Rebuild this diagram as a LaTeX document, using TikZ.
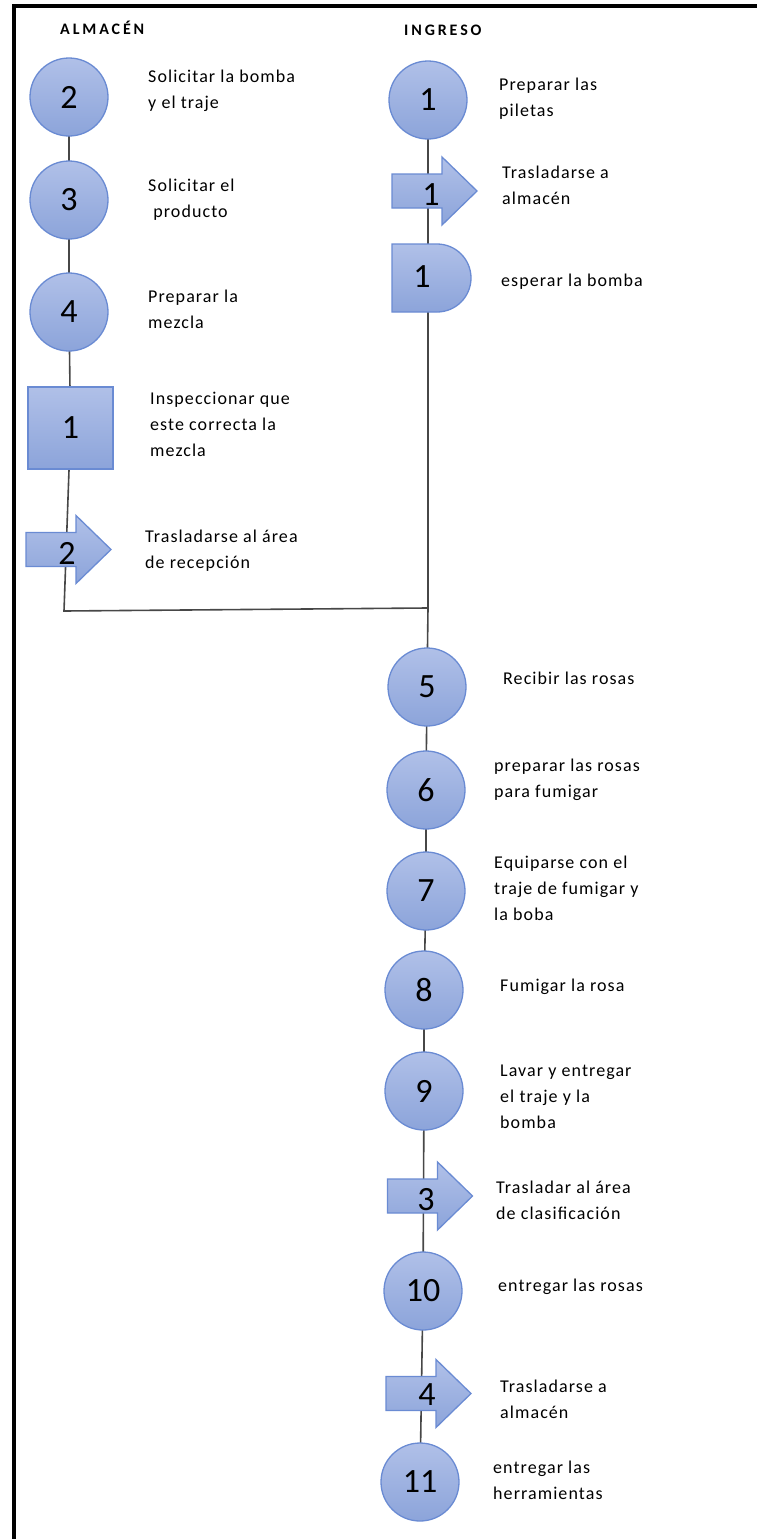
\documentclass[tikz,border=0pt]{standalone}
\usepackage{fontspec}
\setmainfont{Carlito}
\newfontfamily\lblfont{Carlito}[LetterSpace=6]
\newfontfamily\hdrfont{Carlito}[LetterSpace=18]
\usetikzlibrary{backgrounds}

\definecolor{shtop}{HTML}{B0C0E8}
\definecolor{shbot}{HTML}{8CA4DA}
\definecolor{shline}{HTML}{6A8BD3}

\tikzset{
  stepshape/.style={draw=shline, line width=1.3pt, top color=shtop, bottom color=shbot},
  circ/.style={stepshape, circle, minimum size=78pt, inner sep=0pt, font=\fontsize{34}{34}\selectfont},
  sqbox/.style={stepshape, rectangle, minimum width=85pt, minimum height=82pt, inner sep=0pt, font=\fontsize{34}{34}\selectfont},
  num/.style={inner sep=0pt, font=\fontsize{34}{34}\selectfont},
  lbl/.style={anchor=west, align=left, inner sep=0pt, font=\lblfont\fontsize{18}{26}\selectfont},
  hdr/.style={anchor=west, inner sep=0pt, font=\hdrfont\bfseries\fontsize{16}{16}\selectfont},
  conn/.style={draw=black!72, line width=1.6pt},
  holder/.style={inner sep=0pt, minimum width=85pt, minimum height=68pt}
}

% transport step: block arrow with its number
\newcommand\moveshape[4]{%
  \node[holder] (#1) at (#2) {};
  \path[stepshape, shift={(#1.center)}]
    (-42.5,-17) -- (7.5,-17) -- (7.5,-34) -- (42.5,0) -- (7.5,34)
    -- (7.5,17) -- (-42.5,17) -- cycle;
  \node[num] (#1n) at (#4) {#3};}

\begin{document}
\begin{tikzpicture}[x=1pt, y=-1pt]
\useasboundingbox (0,0) rectangle (757,1539);

% frame
\begin{scope}
  \clip (0,0) rectangle (757,1539);
  \draw[line width=4pt] (780,6) -- (13.5,6) -- (13.5,1560);
\end{scope}

% column headings
\node[hdr] (hA) at (60,28) {ALMACÉN};
\node[hdr] (hI) at (404,30) {INGRESO};

% ---- ALMACÉN column ----
\node[circ] (l2) at (69,97) {2};
\node[lbl] (t2) at (148,91) {Solicitar la bomba\\y el traje};
\node[circ] (l3) at (69,200) {3};
\node[lbl] (t3) at (148,200) {Solicitar el\\\ producto};
\node[circ] (l4) at (69,312) {4};
\node[lbl] (t4) at (148,309) {Preparar la\\mezcla};
\node[sqbox] (ls) at (70.5,428) {1};
\node[lbl] (ts) at (150,424) {Inspeccionar que\\este correcta la\\mezcla};
\moveshape{a2}{68.5,549.5}{2}{67,553}
\node[lbl] (ta2) at (145,551) {Trasladarse al área\\de recepción};

% ---- INGRESO column ----
\node[circ] (r1) at (428,100) {1};
\node[lbl] (tr1) at (499,99) {Preparar las\\piletas};
\moveshape{a1}{434.5,191}{1}{431,195}
\node[lbl] (ta1) at (502,185) {Trasladarse a\\almacén};
% delay
\node[holder, minimum width=79pt] (d1) at (431.5,278) {};
\path[stepshape, shift={(d1.center)}]
  (-39.5,-34) -- (5.5,-34) arc[start angle=90, end angle=-90, radius=34pt]
  -- (-39.5,34) -- cycle;
\node[num] (d1n) at (422,277) {1};
\node[lbl] (td1) at (501,282) {esperar la bomba};

\coordinate (corner) at (64,611);
\coordinate (j) at (427,608);

\node[circ] (r5) at (427,687) {5};
\node[lbl] (tr5) at (503,678) {Recibir las rosas};
\node[circ] (r6) at (426,790) {6};
\node[lbl] (tr6) at (494,780) {preparar las rosas\\para fumigar};
\node[circ] (r7) at (426,891) {7};
\node[lbl] (tr7) at (494,888) {Equiparse con el\\traje de fumigar y\\la boba};
\node[circ] (r8) at (424,990) {8};
\node[lbl] (tr8) at (500,987) {Fumigar la rosa};
\node[circ] (r9) at (424,1091) {9};
\node[lbl] (tr9) at (500,1097) {Lavar y entregar\\el traje y la\\bomba};
\moveshape{a3}{430,1196}{3}{426,1200}
\node[lbl] (ta3) at (496,1200) {Trasladar al área\\de clasificación};
\node[circ] (r10) at (423,1291) {10};
\node[lbl] (tr10) at (498,1287) {entregar las rosas};
\moveshape{a4}{428.5,1393.5}{4}{427,1395}
\node[lbl] (ta4) at (500,1399) {Trasladarse a\\almacén};
\node[circ] (r11) at (420,1482) {11};
\node[lbl] (tr11) at (493,1480) {entregar las\\herramientas};

% connectors behind the symbols
\begin{pgfonlayer}{background}
  \draw[conn] (l2.center) -- (l3.center) -- (l4.center) -- (ls.center)
    -- (corner) -- (j);
  \draw[conn] (r1.center) -- (r1.center |- j) -- (r5.center) -- (r6.center)
    -- (r7.center) -- (r8.center) -- (r9.center) -- (r10.center) -- (r11.center);
\end{pgfonlayer}
\end{tikzpicture}
\end{document}
